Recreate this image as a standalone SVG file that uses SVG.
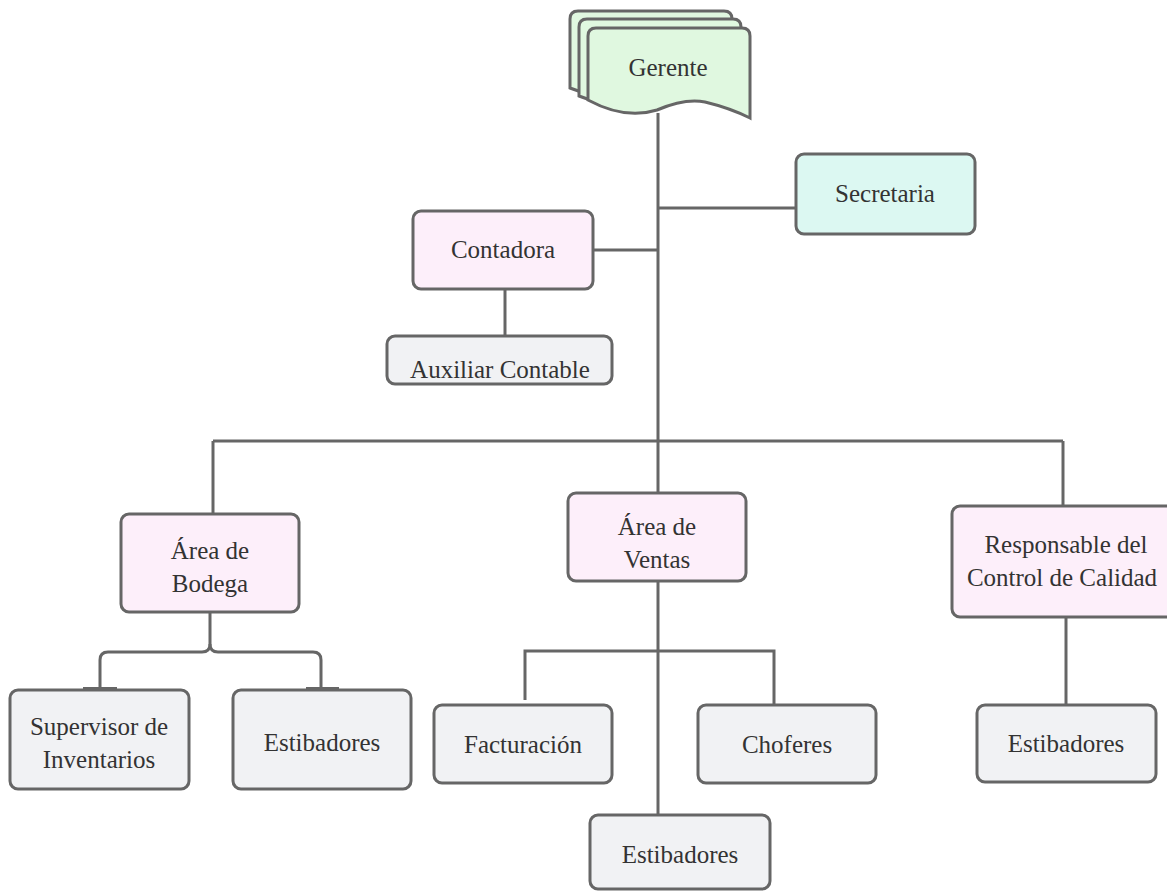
<svg xmlns="http://www.w3.org/2000/svg" width="1167" height="892" viewBox="0 0 1167 892">
<style>
.n{stroke:#666;stroke-width:3}
.pink{fill:#fdeffa}
.gray{fill:#f1f2f4}
.green{fill:#e0f8e0}
.cyan{fill:#dcf8f2}
.t{font-family:"Liberation Serif","DejaVu Serif",serif;font-size:25px;fill:#333;text-anchor:middle}
.c{fill:none;stroke:#666;stroke-width:3}
</style>
<rect width="1167" height="892" fill="#fff"/>
<g id="connectors">
<path class="c" d="M658 113 V493"/>
<path class="c" d="M658 208 H796"/>
<path class="c" d="M593 250 H658"/>
<path class="c" d="M505 289 V336"/>
<path class="c" d="M213 441 H1063"/>
<path class="c" d="M213 441 V514"/>
<path class="c" d="M1063 441 V507"/>
<path class="c" d="M210 612 V644 Q210 652 202 652 H108 Q100 652 100 660 V689"/>
<path class="c" d="M210 644 Q210 652 218 652 H313 Q321 652 321 660 V689"/>
<path stroke="#666" stroke-width="4" d="M83 689 H117 M306 689 H339"/>
<path class="c" d="M658 581 V815"/>
<path class="c" d="M525 700 V651 H774 V705"/>
<path class="c" d="M1066 617 V705"/>
</g>
<g id="gerente">
<path class="n green" d="M578 11 H724 Q732 11 732 19 V101 Q712 93 690 88 Q670 84 640 96 Q610 104 570 88 V19 Q570 11 578 11 Z"/>
<path class="n green" d="M587 19 H733 Q741 19 741 27 V109 Q721 101 699 96 Q679 92 649 104 Q619 112 579 96 V27 Q579 19 587 19 Z"/>
<path class="n green" d="M596 28 H742 Q750 28 750 36 V118 Q730 108 705 102 Q685 98 657 110 Q625 120 588 100 V36 Q588 28 596 28 Z"/>
<text class="t" x="668" y="76">Gerente</text>
</g>
<g id="secretaria">
<rect class="n cyan" x="796" y="154" width="179" height="80" rx="8"/>
<text class="t" x="885" y="202">Secretaria</text>
</g>
<g id="contadora">
<rect class="n pink" x="413" y="211" width="180" height="78" rx="8"/>
<text class="t" x="503" y="258">Contadora</text>
</g>
<g id="auxiliar">
<rect class="n gray" x="387" y="336" width="225" height="48" rx="8"/>
<text class="t" x="500" y="378">Auxiliar Contable</text>
</g>
<g id="bodega">
<rect class="n pink" x="121" y="514" width="178" height="98" rx="8"/>
<text class="t" x="210" y="559">Área de</text>
<text class="t" x="210" y="592">Bodega</text>
</g>
<g id="ventas">
<rect class="n pink" x="568" y="493" width="178" height="88" rx="8"/>
<text class="t" x="657" y="535">Área de</text>
<text class="t" x="657" y="568">Ventas</text>
</g>
<g id="responsable">
<rect class="n pink" x="952" y="506" width="230" height="111" rx="8"/>
<text class="t" x="1066" y="553">Responsable del</text>
<text class="t" x="1062" y="586">Control de Calidad</text>
</g>
<g id="supervisor">
<rect class="n gray" x="10" y="690" width="179" height="99" rx="8"/>
<text class="t" x="99" y="735">Supervisor de</text>
<text class="t" x="99" y="768">Inventarios</text>
</g>
<g id="estibadores-bodega">
<rect class="n gray" x="233" y="690" width="178" height="99" rx="8"/>
<text class="t" x="322" y="751">Estibadores</text>
</g>
<g id="facturacion">
<rect class="n gray" x="434" y="705" width="178" height="78" rx="8"/>
<text class="t" x="523" y="753">Facturación</text>
</g>
<g id="choferes">
<rect class="n gray" x="698" y="705" width="178" height="78" rx="8"/>
<text class="t" x="787" y="753">Choferes</text>
</g>
<g id="estibadores-calidad">
<rect class="n gray" x="977" y="705" width="179" height="77" rx="8"/>
<text class="t" x="1066" y="752">Estibadores</text>
</g>
<g id="estibadores-ventas">
<rect class="n gray" x="590" y="815" width="180" height="74" rx="8"/>
<text class="t" x="680" y="863">Estibadores</text>
</g>
</svg>
